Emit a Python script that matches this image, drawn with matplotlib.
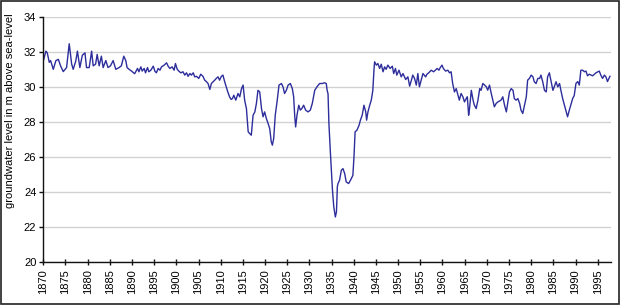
import matplotlib.pyplot as plt
from matplotlib.patches import Rectangle

plt.rcParams['font.family'] = ['Liberation Sans', 'DejaVu Sans']

# groundwater level readings (year, m above sea-level)
years = [
    1870.0, 1870.6, 1870.9, 1871.35, 1871.65, 1872.25, 1872.85, 1873.4, 1873.9, 1874.5,
    1875.25, 1875.85, 1876.4, 1876.75, 1877.35, 1877.7, 1878.25, 1878.8, 1879.4, 1879.75,
    1880.35, 1880.9, 1881.25, 1881.8, 1882.15, 1882.6, 1883.1, 1883.5, 1884.1, 1884.6,
    1885.15, 1885.75, 1886.35, 1887.1, 1887.6, 1888.15, 1888.6, 1888.9, 1889.35, 1889.9,
    1890.6, 1891.25, 1891.55, 1892.0, 1892.3, 1892.75, 1893.05, 1893.5, 1893.8, 1894.25,
    1894.8, 1895.15, 1895.5, 1895.9, 1896.3, 1896.65, 1897.25, 1897.8, 1898.15, 1898.55,
    1899.05, 1899.5, 1899.8, 1900.2, 1900.55, 1901.0, 1901.5, 1901.9, 1902.3, 1902.65,
    1903.05, 1903.4, 1903.8, 1904.15, 1904.55, 1905.05, 1905.5, 1906.0, 1906.4, 1906.8,
    1907.15, 1907.55, 1907.9, 1908.3, 1908.65, 1909.0, 1909.4, 1909.75, 1910.15, 1910.5,
    1910.9, 1911.25, 1911.6, 1912.0, 1912.35, 1912.65, 1912.95, 1913.4, 1913.9, 1914.3,
    1914.7, 1915.05, 1915.4, 1915.8, 1916.2, 1916.55, 1916.9, 1917.3, 1917.7, 1918.05,
    1918.4, 1918.8, 1919.2, 1919.55, 1919.9, 1920.3, 1920.7, 1921.05, 1921.4, 1921.65,
    1921.95, 1922.3, 1922.7, 1923.15, 1923.7, 1924.05, 1924.4, 1924.8, 1925.2, 1925.7,
    1926.15, 1926.45, 1926.7, 1926.9, 1927.2, 1927.6, 1927.95, 1928.3, 1928.7, 1929.15,
    1929.7, 1930.2, 1930.65, 1931.2, 1931.7, 1932.3, 1932.9, 1933.4, 1933.8, 1934.0,
    1934.2, 1934.4, 1934.7, 1935.2, 1935.5, 1935.85, 1936.1, 1936.3, 1936.45, 1936.8,
    1937.2, 1937.57, 1937.95, 1938.3, 1938.85, 1939.45, 1939.8, 1940.05, 1940.3, 1940.7,
    1941.2, 1941.5, 1941.9, 1942.3, 1942.7, 1942.9, 1943.2, 1943.6, 1943.95, 1944.3,
    1944.55, 1944.7, 1945.1, 1945.45, 1945.83, 1946.2, 1946.6, 1946.95, 1947.3, 1947.7,
    1948.2, 1948.7, 1949.0, 1949.4, 1949.7, 1950.2, 1950.7, 1951.1, 1951.7, 1952.2,
    1952.6, 1953.0, 1953.3, 1953.7, 1954.1, 1954.45, 1954.8, 1955.2, 1955.6, 1956.2,
    1956.5, 1956.9, 1957.45, 1958.0, 1958.4, 1958.8, 1959.2, 1959.5, 1959.9, 1960.2,
    1960.7, 1961.2, 1961.6, 1961.95, 1962.3, 1962.7, 1963.1, 1963.5, 1963.8, 1964.2,
    1964.6, 1964.96, 1965.35, 1965.6, 1965.9, 1966.1, 1966.5, 1966.9, 1967.2, 1967.6,
    1968.0, 1968.4, 1968.7, 1969.1, 1969.5, 1969.9, 1970.2, 1970.6, 1971.0, 1971.35,
    1971.7, 1972.1, 1972.5, 1973.2, 1973.6, 1974.0, 1974.4, 1974.7, 1975.1, 1975.5,
    1975.9, 1976.2, 1976.6, 1977.0, 1977.4, 1977.7, 1978.1, 1978.5, 1978.9, 1979.2,
    1979.6, 1980.0, 1980.4, 1980.7, 1981.1, 1981.5, 1981.9, 1982.2, 1982.6, 1983.0,
    1983.4, 1983.7, 1984.1, 1984.5, 1984.9, 1985.2, 1985.6, 1986.0, 1986.4, 1986.7,
    1987.1, 1987.5, 1988.2, 1988.6, 1989.35, 1989.7, 1990.1, 1990.5, 1990.85, 1991.2,
    1991.6, 1992.0, 1992.35, 1992.7, 1993.1, 1993.85, 1994.6, 1995.35, 1995.7, 1996.1,
    1996.5, 1996.85, 1997.2, 1997.75,
]
levels = [
    31.48, 32.04, 31.94, 31.4, 31.5, 31.0, 31.5, 31.57, 31.2, 30.87,
    31.1, 32.46, 31.3, 31.0, 31.5, 32.04, 31.1, 31.8, 31.94, 31.1,
    31.1, 32.04, 31.2, 31.3, 31.85, 31.2, 31.75, 31.1, 31.5, 31.1,
    31.2, 31.5, 31.0, 31.1, 31.2, 31.75, 31.5, 31.1, 31.0, 30.9,
    30.75, 31.05, 30.86, 31.14, 30.9, 31.05, 30.8, 31.1, 30.86, 30.95,
    31.18, 30.9, 30.8, 31.05, 30.95, 31.14, 31.24, 31.37, 31.18, 31.05,
    31.14, 30.95, 31.33, 31.0, 30.9, 30.8, 30.86, 30.67, 30.8, 30.6,
    30.76, 30.67, 30.8, 30.57, 30.6, 30.48, 30.72, 30.6, 30.38, 30.29,
    30.19, 29.85, 30.19, 30.29, 30.38, 30.48, 30.57, 30.38, 30.6, 30.67,
    30.29, 30.0, 29.71, 29.43, 29.28, 29.33, 29.52, 29.24, 29.62, 29.43,
    29.9, 30.1, 29.24, 28.76, 27.43, 27.33, 27.24, 28.38, 28.57, 29.05,
    29.8, 29.71, 28.76, 28.29, 28.57, 28.19, 27.9, 27.62, 26.86, 26.67,
    27.05, 28.38, 29.14, 30.1, 30.19, 30.0, 29.62, 29.8, 30.1, 30.19,
    29.9, 29.43, 28.29, 27.71, 28.38, 28.95, 28.67, 28.76, 28.95, 28.67,
    28.57, 28.67, 29.05, 29.8, 30.0, 30.19, 30.19, 30.23, 30.19, 29.8,
    29.6, 27.9, 26.4, 24.1, 23.14, 22.57, 22.86, 24.3, 24.48, 24.67,
    25.24, 25.33, 25.05, 24.57, 24.48, 24.76, 24.95, 26.0, 27.43, 27.52,
    27.81, 28.1, 28.38, 28.95, 28.57, 28.1, 28.57, 28.95, 29.24, 29.8,
    30.95, 31.43, 31.24, 31.33, 31.05, 31.29, 30.86, 31.14, 31.0, 31.24,
    31.05, 31.18, 30.76, 31.05, 30.67, 30.95, 30.57, 30.76, 30.42, 30.57,
    30.04, 30.38, 30.67, 30.48, 30.1, 30.76, 30.0, 30.38, 30.76, 30.57,
    30.72, 30.8, 30.95, 30.86, 30.95, 31.05, 30.95, 31.1, 31.24, 31.05,
    30.9, 30.95, 30.8, 30.86, 30.19, 29.71, 29.9, 29.52, 29.24, 29.62,
    29.43, 29.14, 29.33, 29.43, 28.38, 28.76, 29.8, 29.24, 28.95, 28.76,
    29.24, 29.9, 29.8, 30.19, 30.1, 30.0, 29.81, 30.1, 29.62, 29.24,
    28.86, 29.05, 29.14, 29.24, 29.43, 28.95, 28.57, 29.05, 29.71, 29.9,
    29.8, 29.33, 29.24, 29.33, 29.05, 28.67, 28.48, 28.95, 29.43, 30.38,
    30.48, 30.67, 30.57, 30.29, 30.19, 30.48, 30.48, 30.67, 30.29, 29.8,
    29.71, 30.57, 30.8, 30.29, 29.8, 30.0, 30.29, 30.0, 30.19, 29.8,
    29.33, 28.95, 28.29, 28.67, 29.33, 29.5, 30.2, 30.3, 30.1, 30.95,
    30.95, 30.86, 30.9, 30.63, 30.72, 30.63, 30.8, 30.9, 30.67, 30.48,
    30.67, 30.57, 30.3, 30.6,
]
x_ticks = list(range(1870, 1996, 5))
y_ticks = list(range(20, 35, 2))

fig = plt.figure(figsize=(6.2, 3.05), dpi=100)
ax = fig.add_axes([0.0698, 0.141, 0.915, 0.804])

ax.plot(years, levels, color='#2d2d9c', linewidth=1.0)

ax.set_xlim(1870, 1997.9)
ax.set_ylim(20, 34)
ax.set_xticks(x_ticks)
ax.set_yticks(y_ticks)
ax.set_xticklabels([str(t) for t in x_ticks], rotation=90)
ax.tick_params(axis='x', direction='inout', length=5, width=1, pad=2.5,
               labelsize=8, color='#111111')
ax.tick_params(axis='y', direction='out', length=3, width=1, pad=2,
               labelsize=8, color='#111111')
ax.set_ylabel('groundwater level in m above sea-level', fontsize=8)
ax.yaxis.set_label_coords(-0.05, 0.615)

ax.grid(axis='y', color='#d2d2d2', linewidth=1)
ax.set_axisbelow(True)
for side in ['top', 'right']:
    ax.spines[side].set_visible(False)
for side in ['left', 'bottom']:
    ax.spines[side].set_color('#111111')
    ax.spines[side].set_linewidth(1)

# thin frame round the whole picture
fig.patches.append(Rectangle((0.001, 0.002), 0.997, 0.995, transform=fig.transFigure,
                             fill=False, edgecolor='#222222', linewidth=1.2))

fig.savefig('out.png', dpi=100)
